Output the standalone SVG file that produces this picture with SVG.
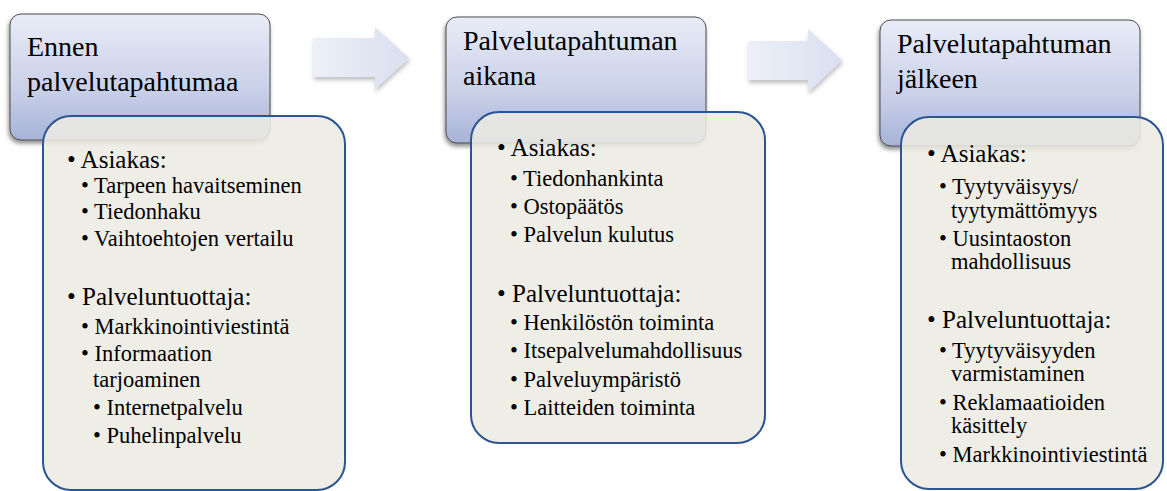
<svg xmlns="http://www.w3.org/2000/svg" width="1167" height="491" viewBox="0 0 1167 491">
<defs>
<linearGradient id="hdr" x1="0" y1="0" x2="0" y2="1">
<stop offset="0" stop-color="#e9ecf7"/>
<stop offset="0.6" stop-color="#c9d0e8"/>
<stop offset="1" stop-color="#a7b3d8"/>
</linearGradient>
<linearGradient id="arw" x1="0" y1="0" x2="1" y2="0">
<stop offset="0" stop-color="#edf0f8"/>
<stop offset="1" stop-color="#dadfef"/>
</linearGradient>
<filter id="sh" x="-10%" y="-10%" width="120%" height="130%">
<feDropShadow dx="-1" dy="3" stdDeviation="2" flood-color="#000" flood-opacity="0.45"/>
</filter>
<filter id="ash" x="-10%" y="-20%" width="130%" height="150%">
<feDropShadow dx="1" dy="3" stdDeviation="2" flood-color="#000" flood-opacity="0.25"/>
</filter>
</defs>
<rect width="1167" height="491" fill="#fff"/>
<g id="connectors" fill="url(#arw)" filter="url(#ash)">
<polygon points="313,38 375,38 375,27 409,58 375,89 375,77 313,77"/>
<polygon points="748,41 808,41 808,29 842,60 808,92 808,80 748,80"/>
</g>
<g id="node1">
<rect x="10" y="14" width="260" height="126" rx="11" fill="url(#hdr)" stroke="#4d4d4d" stroke-width="1" filter="url(#sh)"/>
<rect x="43" y="116" width="302" height="374" rx="28" fill="#ecebe2" fill-opacity="0.88" stroke="#2c5592" stroke-width="2"/>
<text font-family="Times New Roman, Liberation Serif, serif" font-size="28" x="27" y="56">Ennen</text>
<text font-family="Times New Roman, Liberation Serif, serif" font-size="28" x="27" y="91">palvelutapahtumaa</text>
<text font-family="Times New Roman, Liberation Serif, serif" font-size="25" x="67" y="168">• Asiakas:</text>
<text font-family="Times New Roman, Liberation Serif, serif" font-size="22.5" x="81" y="193">• Tarpeen havaitseminen</text>
<text font-family="Times New Roman, Liberation Serif, serif" font-size="22.5" x="81" y="219">• Tiedonhaku</text>
<text font-family="Times New Roman, Liberation Serif, serif" font-size="22.5" x="81" y="246">• Vaihtoehtojen vertailu</text>
<text font-family="Times New Roman, Liberation Serif, serif" font-size="25" x="67" y="305">• Palveluntuottaja:</text>
<text font-family="Times New Roman, Liberation Serif, serif" font-size="22.5" x="81" y="334">• Markkinointiviestintä</text>
<text font-family="Times New Roman, Liberation Serif, serif" font-size="22.5" x="81" y="361">• Informaation</text>
<text font-family="Times New Roman, Liberation Serif, serif" font-size="22.5" x="93" y="387">tarjoaminen</text>
<text font-family="Times New Roman, Liberation Serif, serif" font-size="22.5" x="93" y="415">• Internetpalvelu</text>
<text font-family="Times New Roman, Liberation Serif, serif" font-size="22.5" x="93" y="443">• Puhelinpalvelu</text>
</g>
<g id="node2">
<rect x="446" y="17" width="260" height="126" rx="11" fill="url(#hdr)" stroke="#4d4d4d" stroke-width="1" filter="url(#sh)"/>
<rect x="471" y="112" width="294" height="331" rx="28" fill="#ecebe2" fill-opacity="0.88" stroke="#2c5592" stroke-width="2"/>
<text font-family="Times New Roman, Liberation Serif, serif" font-size="28" x="463" y="50">Palvelutapahtuman</text>
<text font-family="Times New Roman, Liberation Serif, serif" font-size="28" x="463" y="85">aikana</text>
<text font-family="Times New Roman, Liberation Serif, serif" font-size="25" x="497" y="156">• Asiakas:</text>
<text font-family="Times New Roman, Liberation Serif, serif" font-size="22.5" x="510" y="186">• Tiedonhankinta</text>
<text font-family="Times New Roman, Liberation Serif, serif" font-size="22.5" x="510" y="214">• Ostopäätös</text>
<text font-family="Times New Roman, Liberation Serif, serif" font-size="22.5" x="510" y="242">• Palvelun kulutus</text>
<text font-family="Times New Roman, Liberation Serif, serif" font-size="25" x="497" y="302">• Palveluntuottaja:</text>
<text font-family="Times New Roman, Liberation Serif, serif" font-size="22.5" x="510" y="330">• Henkilöstön toiminta</text>
<text font-family="Times New Roman, Liberation Serif, serif" font-size="22.5" x="510" y="358">• Itsepalvelumahdollisuus</text>
<text font-family="Times New Roman, Liberation Serif, serif" font-size="22.5" x="510" y="387">• Palveluympäristö</text>
<text font-family="Times New Roman, Liberation Serif, serif" font-size="22.5" x="510" y="415">• Laitteiden toiminta</text>
</g>
<g id="node3">
<rect x="880" y="20" width="260" height="126" rx="11" fill="url(#hdr)" stroke="#4d4d4d" stroke-width="1" filter="url(#sh)"/>
<rect x="901" y="117" width="262" height="372" rx="28" fill="#ecebe2" fill-opacity="0.88" stroke="#2c5592" stroke-width="2"/>
<text font-family="Times New Roman, Liberation Serif, serif" font-size="28" x="897" y="53">Palvelutapahtuman</text>
<text font-family="Times New Roman, Liberation Serif, serif" font-size="28" x="897" y="88">jälkeen</text>
<text font-family="Times New Roman, Liberation Serif, serif" font-size="25" x="927" y="162">• Asiakas:</text>
<text font-family="Times New Roman, Liberation Serif, serif" font-size="22.5" x="939" y="194">• Tyytyväisyys/</text>
<text font-family="Times New Roman, Liberation Serif, serif" font-size="22.5" x="951" y="218">tyytymättömyys</text>
<text font-family="Times New Roman, Liberation Serif, serif" font-size="22.5" x="939" y="246">• Uusintaoston</text>
<text font-family="Times New Roman, Liberation Serif, serif" font-size="22.5" x="951" y="269">mahdollisuus</text>
<text font-family="Times New Roman, Liberation Serif, serif" font-size="25" x="927" y="328">• Palveluntuottaja:</text>
<text font-family="Times New Roman, Liberation Serif, serif" font-size="22.5" x="939" y="358">• Tyytyväisyyden</text>
<text font-family="Times New Roman, Liberation Serif, serif" font-size="22.5" x="951" y="381">varmistaminen</text>
<text font-family="Times New Roman, Liberation Serif, serif" font-size="22.5" x="939" y="410">• Reklamaatioiden</text>
<text font-family="Times New Roman, Liberation Serif, serif" font-size="22.5" x="951" y="433">käsittely</text>
<text font-family="Times New Roman, Liberation Serif, serif" font-size="22.5" x="939" y="462">• Markkinointiviestintä</text>
</g>
</svg>
